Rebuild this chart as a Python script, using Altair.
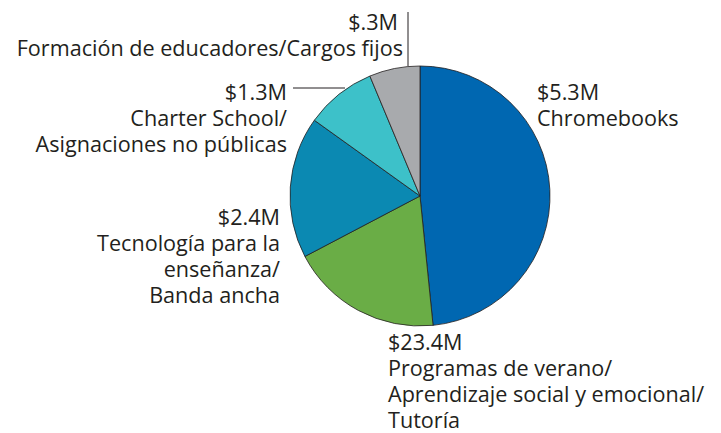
import altair as alt
import pandas as pd

categories = ["Chromebooks", "Programas", "Tecnologia", "Charter", "Formacion"]
shares = [48.4, 18.9, 17.6, 8.8, 6.3]          # slice share
colors = ["#0067b1", "#6aad46", "#0b89b2", "#3dc1c9", "#a8aaad"]
amounts = ["$5.3M", "$23.4M", "$2.4M", "$1.3M", "$.3M"]
names = [
    ["Chromebooks"],
    ["Programas de verano/", "Aprendizaje social y emocional/", "Tutoría"],
    ["Tecnología para la", "enseñanza/", "Banda ancha"],
    ["Charter School/", "Asignaciones no públicas"],
    ["Formación de educadores/Cargos fijos"],
]

df = pd.DataFrame({"cat": categories, "share": shares, "ord": list(range(len(categories)))})

FONT = "Open Sans"
FS = 21.6
LH = 26

pie = alt.Chart(df).mark_arc(outerRadius=130, stroke="#231f20", strokeWidth=0.8).encode(
    theta=alt.Theta("share:Q", stack=True),
    order=alt.Order("ord:Q"),
    color=alt.Color("cat:N", scale=alt.Scale(domain=categories, range=colors), legend=None),
    x=alt.value(412),
    y=alt.value(188),
)

# label placements (x of amount, x of name, first baseline y, align) for each category
places = [(529, 529, 92, "left"), (380, 380, 342, "left"), (272, 272, 217, "right"),
          (279, 279, 92, "right"), (390, 395, 22, "right")]

one = pd.DataFrame({"k": [0]})


def text_layer(txt, x, y, al):
    return alt.Chart(one).mark_text(text=txt, font=FONT, fontSize=FS, align=al,
                                    baseline="alphabetic", color="#231f20").encode(
        x=alt.value(x), y=alt.value(y))


layers = [pie]
for i, (xa, xn, y, al) in enumerate(places):
    layers.append(text_layer(amounts[i], xa, y, al))
    for j, line in enumerate(names[i]):
        layers.append(text_layer(line, xn, y + (j + 1) * LH, al))

# leader lines
layers.append(alt.Chart(one).mark_rule(color="#231f20", strokeWidth=1).encode(
    x=alt.value(400), x2=alt.value(400), y=alt.value(4), y2=alt.value(58)))
layers.append(alt.Chart(one).mark_rule(color="#231f20", strokeWidth=1).encode(
    x=alt.value(285), x2=alt.value(337), y=alt.value(80), y2=alt.value(80)))

chart = alt.layer(*layers).properties(
    width=705, height=425, padding=0, autosize=alt.AutoSizeParams(type="none")
).configure_view(stroke=None)

chart.save("out.html", embed_options={"renderer": "svg", "actions": False})
